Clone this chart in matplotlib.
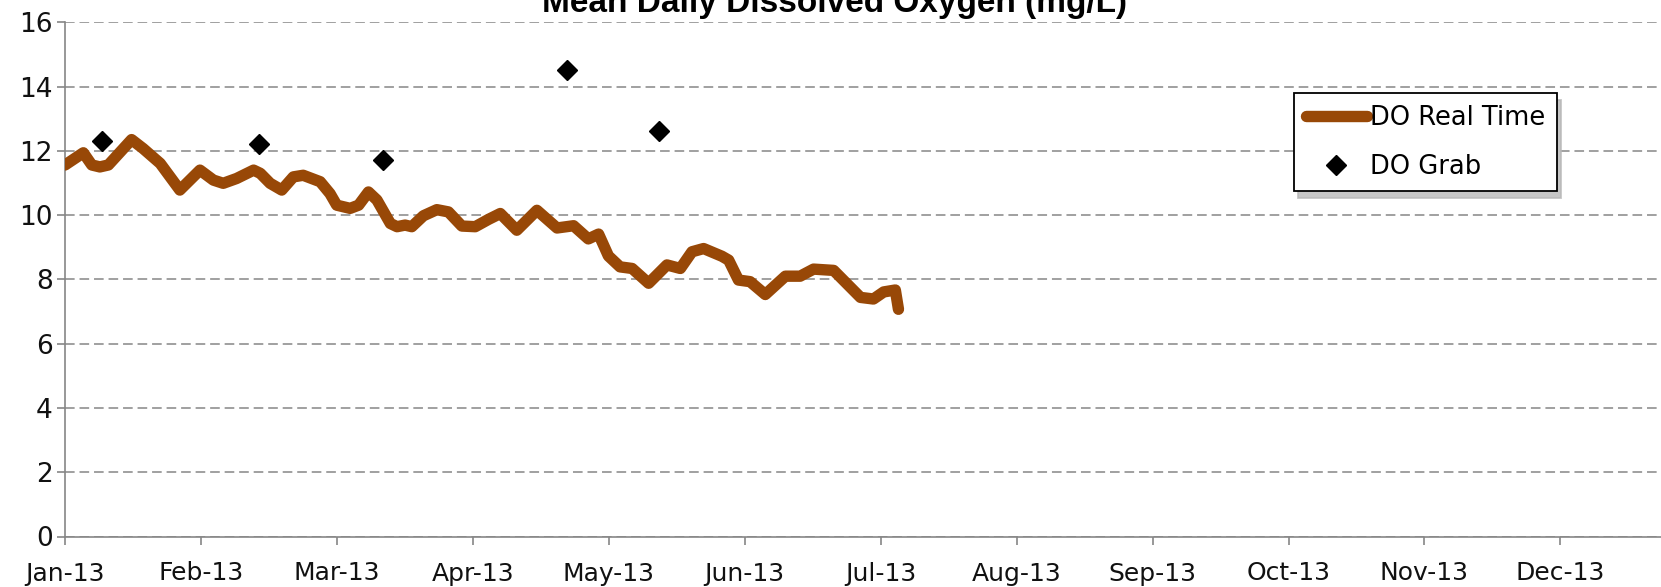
import matplotlib
matplotlib.use('Agg')
import matplotlib.pyplot as plt

# days after Jan-13 axis start, month ticks are evenly spaced on the axis
month_len = 30.42
month_labels = ['Jan-13', 'Feb-13', 'Mar-13', 'Apr-13', 'May-13', 'Jun-13',
                'Jul-13', 'Aug-13', 'Sep-13', 'Oct-13', 'Nov-13', 'Dec-13']

rt_day = [0.0, 4.1, 6.0, 7.8, 9.7, 14.9, 17.5, 21.3, 25.7, 30.2,
          33.2, 35.4, 38.4, 42.2, 43.7, 45.9, 48.5, 51.1, 53.3, 57.1,
          59.3, 60.8, 63.8, 65.7, 67.9, 69.8, 72.8, 74.3, 76.1, 77.6,
          80.2, 83.2, 85.8, 88.8, 91.8, 94.8, 97.4, 101.1, 105.6, 110.1,
          113.8, 117.1, 119.4, 121.6, 124.2, 126.9, 130.6, 134.7, 137.7, 140.3,
          142.9, 147.0, 148.5, 150.7, 153.3, 156.7, 161.2, 164.5, 167.5, 172.0,
          178.0, 180.9, 183.2, 185.8, 186.5]
rt_do = [11.56, 11.94, 11.56, 11.50, 11.56, 12.35, 12.07, 11.61, 10.78, 11.40,
         11.09, 10.99, 11.14, 11.40, 11.30, 10.99, 10.78, 11.19, 11.24, 11.04,
         10.67, 10.31, 10.21, 10.31, 10.72, 10.47, 9.74, 9.64, 9.69, 9.64,
         9.98, 10.17, 10.10, 9.66, 9.64, 9.87, 10.05, 9.53, 10.15, 9.60,
         9.67, 9.26, 9.41, 8.73, 8.39, 8.34, 7.88, 8.45, 8.34, 8.86,
         8.96, 8.72, 8.60, 7.98, 7.93, 7.53, 8.10, 8.10, 8.32, 8.28,
         7.44, 7.39, 7.61, 7.67, 7.07]

grab_day = [8.2, 43.5, 71.1, 112.3, 133.0]
grab_do = [12.31, 12.21, 11.70, 14.51, 12.61]

W, H = 1661, 587
fig = plt.figure(figsize=(W / 100, H / 100), dpi=100)
ax = fig.add_axes([65 / W, 1 - 536.5 / H, 1 - 65 / W, (536.5 - 22.3) / H])

ax.plot(rt_day, rt_do, color='#984807', linewidth=8.2, solid_capstyle='round',
        solid_joinstyle='round', label='DO Real Time', zorder=3)
ax.plot(grab_day, grab_do, linestyle='none', marker='D', markersize=10,
        color='black', label='DO Grab', zorder=4)

ax.set_xlim(0, 11.74 * month_len)
ax.set_ylim(0, 16)
ax.set_xticks([i * month_len for i in range(len(month_labels))])
ax.set_xticklabels(month_labels)
ax.set_yticks(range(0, 17, 2))

gray = '#868686'
for side in ['top', 'right']:
    ax.spines[side].set_visible(False)
for side in ['left', 'bottom']:
    ax.spines[side].set_color(gray)
    ax.spines[side].set_linewidth(1.2)
ax.yaxis.grid(True, color=gray, linewidth=1.1, linestyle=(0, (6.3, 3.2)))
ax.set_axisbelow(True)
ax.tick_params(axis='both', direction='out', color=gray, width=1.2, length=6,
               labelsize=18, labelcolor='#111111')
ax.tick_params(axis='x', pad=12)
ax.tick_params(axis='y', pad=3, labelsize=19)

fig.text(834 / W, 1 - 11.7 / H, 'Mean Daily Dissolved Oxygen (mg/L)', ha='center',
         va='baseline', fontsize=24, fontweight='bold', family='Liberation Sans')

lgd = ax.legend(loc='upper left', bbox_to_anchor=(1294 / W, 1 - 93 / H),
                bbox_transform=fig.transFigure, borderaxespad=0, fontsize=18.5,
                frameon=True, fancybox=False, edgecolor='black',
                shadow={'ox': 3, 'oy': -5, 'color': '#b8b8b8', 'alpha': 0.8},
                borderpad=0.45, labelspacing=0.9, handlelength=2.4,
                handletextpad=0.1)
lgd.get_frame().set_linewidth(1.3)
lgd.get_frame().set_alpha(1)

fig.savefig('out.png', dpi=100)
